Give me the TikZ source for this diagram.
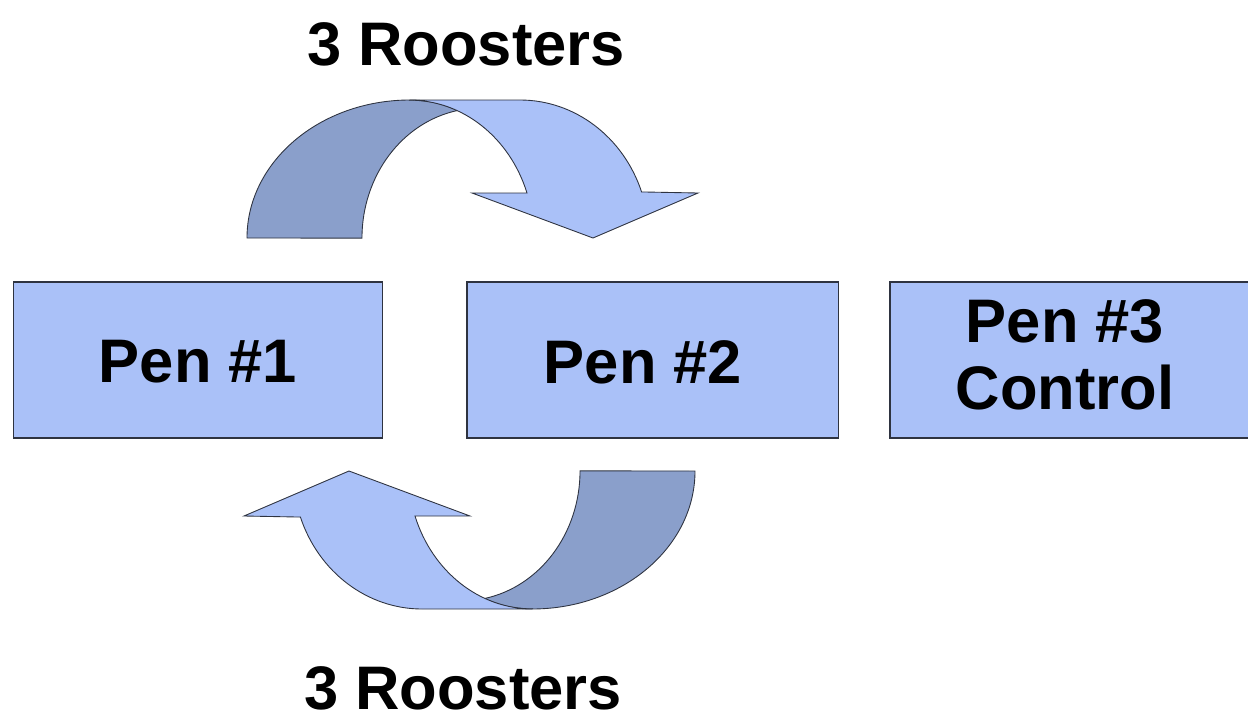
\documentclass[tikz,border=0pt]{standalone}
\usepackage{fontspec}
\setmainfont{Liberation Sans}
\usetikzlibrary{positioning}
\definecolor{PenBlue}{HTML}{AAC1F8}
\definecolor{BackBlue}{HTML}{8A9FCB}
\definecolor{EdgeGray}{HTML}{2E3340}

% one curved swap arrow, turned by #1 degrees about the middle of the pens
\newcommand{\swaparrow}[1]{%
  \begin{scope}[rotate around={#1:(471,354.5)}]
    \filldraw[backband] (247,238) arc[start angle=180,end angle=270,x radius=163,y radius=138]
      arc[start angle=270,end angle=292.5,x radius=124,y radius=138]
      arc[start angle=259,end angle=180,x radius=118,y radius=130] -- cycle;
    \filldraw[frontband] (410,100) -- (520,100)
      arc[start angle=270,end angle=340.5,x radius=129,y radius=138]
      -- (698,193) -- (593,238) -- (472,193) -- (527,193)
      arc[start angle=340.9,end angle=270,x radius=124,y radius=138] -- cycle;
  \end{scope}}

\begin{document}
\begin{tikzpicture}[
    x=0.02cm,y=-0.02cm,
    pen/.style={draw=EdgeGray,line width=0.6pt,fill=PenBlue,minimum height=3.12cm},
    pentext/.style={align=center,font=\fontsize{35}{38.5}\selectfont\bfseries},
    tag/.style={font=\fontsize{35}{42}\selectfont\bfseries,anchor=base,inner sep=0pt},
    frontband/.style={draw=EdgeGray,line width=0.5pt,fill=PenBlue},
    backband/.style={frontband,fill=BackBlue}
  ]
    \useasboundingbox (0,0) rectangle (1248,717);

    \node[pen,minimum width=7.4cm] (pen1) at (198,360) {};
    \node[pen,minimum width=7.44cm,right=1.66cm of pen1] (pen2) {};
    \node[pen,minimum width=7.28cm,right=1.0cm of pen2] (pen3) {};
    \node[pentext] (pen1txt) at (198,362) {Pen \#1};
    \node[pentext] (pen2txt) at (643,362) {Pen \#2};
    \node[pentext] (pen3txt) at (1065,355) {Pen \#3\\Control};

    \swaparrow{0}
    \swaparrow{180}

    \node[tag] (toptag) at (466,65) {3 Roosters};
    \node[tag] (bottag) at (463,709) {3 Roosters};
  \end{tikzpicture}
\end{document}
